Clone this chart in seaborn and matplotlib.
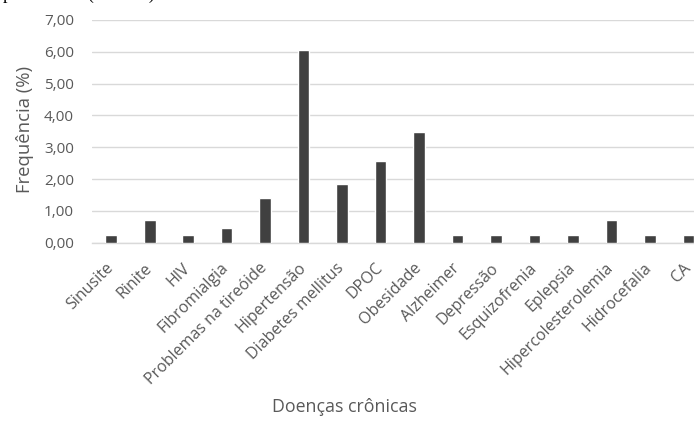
import matplotlib
matplotlib.use("Agg")
import matplotlib.pyplot as plt
import matplotlib.transforms as mtransforms
import seaborn as sns
import pandas as pd
from matplotlib.ticker import FuncFormatter, MultipleLocator

categories = ["Sinusite", "Rinite", "HIV", "Fibromialgia", "Problemas na tireóide",
              "Hipertensão", "Diabetes mellitus", "DPOC", "Obesidade", "Alzheimer",
              "Depressão", "Esquizofrenia", "Eplepsia", "Hipercolesterolemia",
              "Hidrocefalia", "CA"]
values = [0.23, 0.70, 0.23, 0.47, 1.40, 6.05, 1.86, 2.56, 3.49, 0.23,
          0.23, 0.23, 0.23, 0.70, 0.23, 0.23]
y_label = "Frequência (%)"
x_label = "Doenças crônicas"
caption = "portadores  (n = 430)"

df = pd.DataFrame({"cat": categories, "val": values})

sns.set_theme(style="white")
plt.rcParams["font.family"] = ["Open Sans", "DejaVu Sans"]

fig = plt.figure(figsize=(6.94, 4.21), dpi=100)
ax = fig.add_axes([0.1326, 0.4235, 0.8872, 0.529])

sns.barplot(data=df, x="cat", y="val", color="#404040", saturation=1,
            width=0.3, ax=ax, zorder=3)

ax.set_xlim(-0.5, len(categories) - 0.5)
ax.set_ylim(0, 7)
ax.yaxis.set_major_locator(MultipleLocator(1))
ax.yaxis.set_major_formatter(FuncFormatter(lambda v, p: f"{v:.2f}".replace(".", ",")))
ax.grid(axis="y", color="#d9d9d9", linewidth=1, zorder=0)
for s in ["top", "right", "left"]:
    ax.spines[s].set_visible(False)
ax.spines["bottom"].set_color("#d9d9d9")
ax.spines["bottom"].set_linewidth(1)
ax.tick_params(axis="both", length=0, colors="#595959")
ax.tick_params(axis="y", pad=13, labelsize=11)
ax.tick_params(axis="x", pad=12.5, labelsize=11.5)
shift = mtransforms.ScaledTranslation(-6 / 100, 0, fig.dpi_scale_trans)
for lab in ax.get_xticklabels():
    lab.set_rotation(45)
    lab.set_ha("right")
    lab.set_rotation_mode("anchor")
    lab.set_transform(lab.get_transform() + shift)

ax.set_ylabel("")
ax.set_xlabel("")
fig.text(25 / 694, 1 - 130 / 421, y_label, ha="center", va="center", rotation=90,
         color="#595959", fontsize=13.3)
fig.text(344 / 694, 1 - 407 / 421, x_label, ha="center", va="center",
         color="#595959", fontsize=12.8)

# caption of the source document, cropped at the very top of the image
fig.text(0.005, 1.002, caption, ha="left", va="baseline",
         family="Liberation Serif", fontsize=13, color="black")

fig.savefig("out.png", dpi=100)
